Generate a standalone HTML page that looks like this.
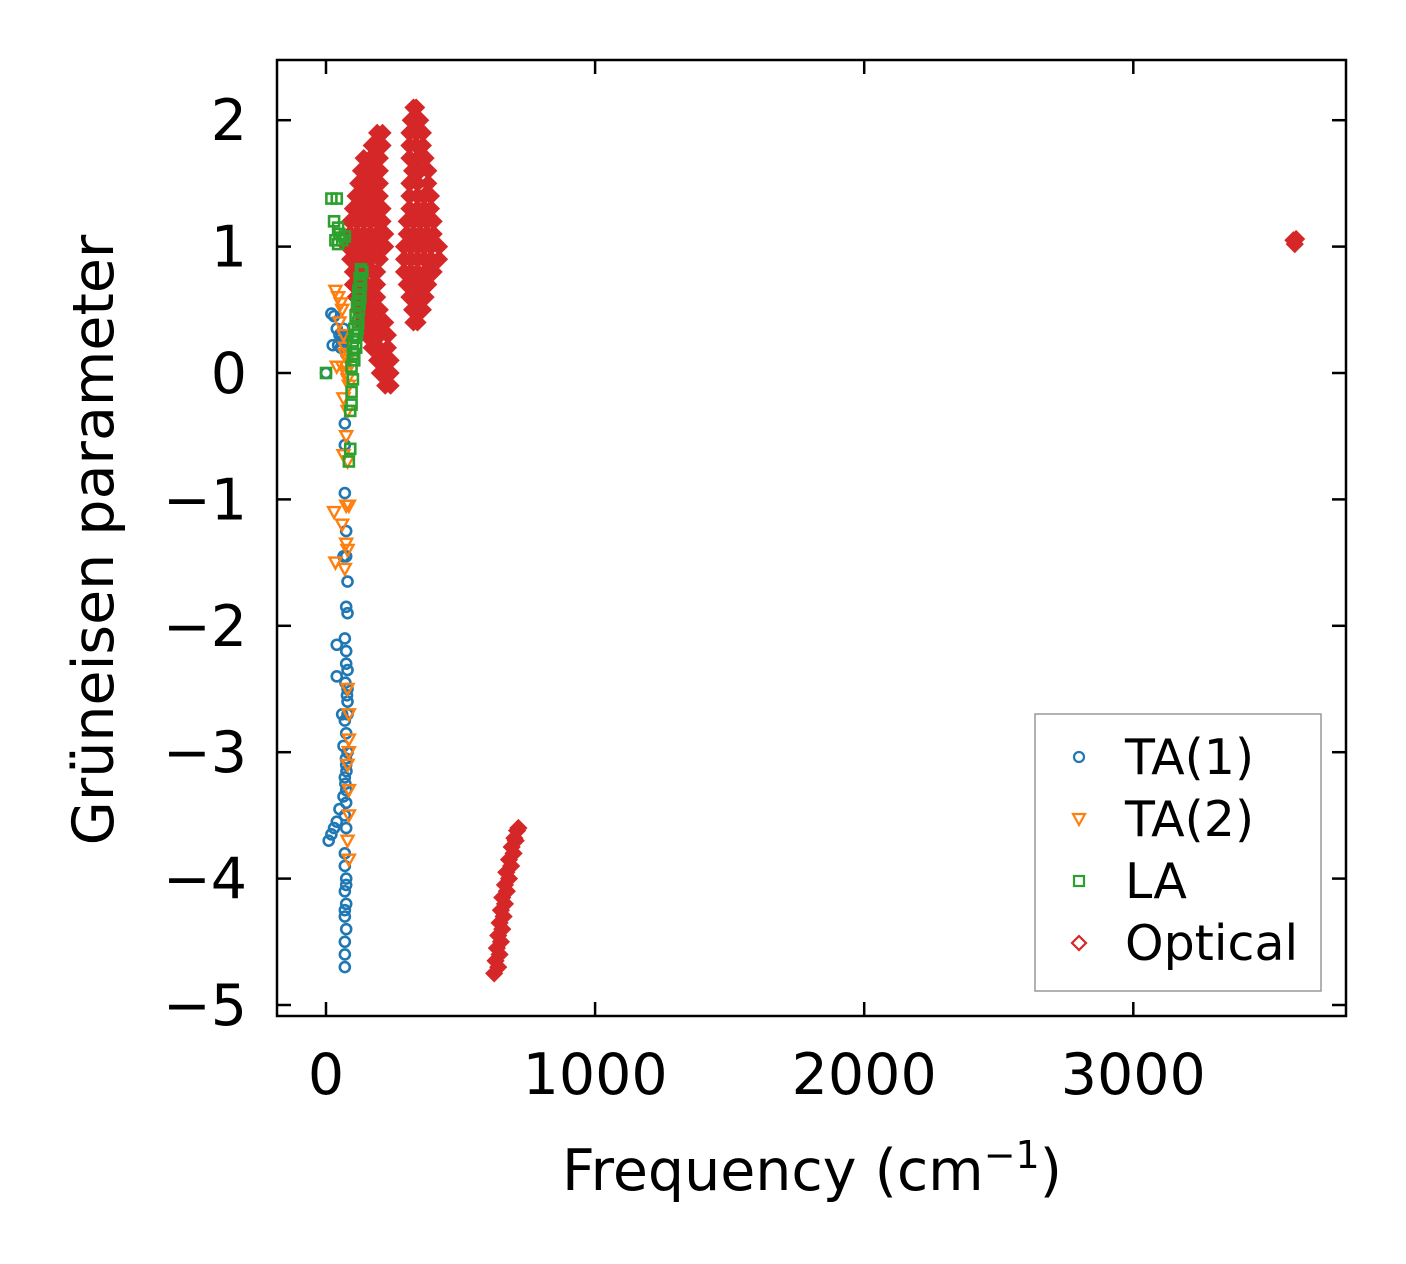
<!DOCTYPE html>
<html><head><meta charset="utf-8"><style>body{margin:0;background:#fff}svg{display:block}text{font-family:"DejaVu Sans","Liberation Sans",sans-serif;fill:#000}</style></head>
<body>
<svg id="chart" width="1406" height="1264" viewBox="0 0 1406 1264" xmlns="http://www.w3.org/2000/svg">
<rect width="1406" height="1264" fill="#fff"/>
<g id="marks"></g>
<g id="axes"></g>
</svg>
<script>
const xTicks=[0,1000,2000,3000];
const yTicks=[-5,-4,-3,-2,-1,0,1,2];
const yTickLabels=["\u22125","\u22124","\u22123","\u22122","\u22121","0","1","2"];
const ta1F=[0,20,30,40,50,55,60,45,25,70,70,70,75,65,75,80,75,80,40,70,75,75,80,80,40,60,70,75,65,80,75,70,65,50,40,30,10,20,70,75,70,75,70,75,70,75,70,70,70,80,80,75,75,70,75,70,60,65,70,75,80,72,78,74,76,72];
const ta1G=[0,0.47,0.45,0.35,0.3,0.2,0.25,0.22,0.22,-0.4,-0.57,-0.95,-1.25,-1.45,-1.45,-1.65,-1.85,-1.9,-2.15,-2.1,-2.2,-2.3,-2.35,-2.5,-2.4,-2.7,-2.75,-2.85,-2.95,-3.0,-3.1,-3.2,-3.35,-3.45,-3.55,-3.6,-3.7,-3.65,-3.5,-3.6,-3.9,-4.0,-4.1,-4.2,-4.3,-4.4,-4.5,-4.6,-4.7,-2.6,-2.7,-3.3,-3.4,-3.8,-4.05,-4.25,0.3,0.35,0.25,0.15,0.28,-2.45,-2.55,-3.05,-3.15,-3.25];
const ta2F=[35,45,55,60,50,65,70,80,40,60,75,85,65,80,75,65,80,85,75,30,60,75,80,35,70,85,85,80,85,85,80,85,80,85,70,75,80];
const ta2G=[0.65,0.6,0.55,0.5,0.4,0.3,0.2,0.1,0.05,0.05,0,-0.1,-0.2,-0.3,-0.5,-0.65,-0.7,-1.05,-1.05,-1.1,-1.2,-1.35,-1.4,-1.5,-1.55,-2.7,-2.9,-3.1,-3.3,-3.5,-3.7,-3.85,-2.5,-3.0,0.15,0.05,-0.05];
const laF=[20,40,30,45,50,60,35,45,70,130,125,120,115,110,105,100,100,95,100,95,95,90,90,85,130,125,120,115,105,135,0,128,122,118,112,108,104];
const laG=[1.38,1.38,1.2,1.15,1.1,1.05,1.05,1.02,1.08,0.82,0.75,0.65,0.55,0.45,0.35,0.25,0.15,0.05,-0.05,-0.15,-0.25,-0.3,-0.6,-0.7,0.7,0.55,0.4,0.3,0.1,0.8,0,0.6,0.5,0.35,0.2,0.3,0.15];
const optF=[190,210, 170,190,210, 140,165,190,200, 130,155,180,200, 120,145,170,200, 110,135,160,185,200, 100,125,150,175,200,210, 90,115,140,165,190,210, 90,115,140,165,190,220, 80,105,130,155,180,205,220, 90,115,140,165,200, 100,125,150,175,190, 100,125,150,175,190, 110,135,160,190, 120,145,170,200, 130,155,180,205,220, 150,175,200,230, 170,195,230, 190,215,240, 200,220,240, 220,240,
325,335, 315,335,350, 310,335,360, 310,335,360, 310,340,370, 320,350,380, 310,340,380, 310,340,365,390, 310,340,365,390, 300,325,350,375,400, 300,325,350,375,400, 290,315,340,365,390,420, 290,315,340,365,390,420, 290,315,340,370,400, 300,330,355,380, 310,340,370, 320,345,360, 325,340,
625,630,635,640,645,650,655,665,670,680,690,700,710,715, 640,645,650,655,660,665,672,680,688,697,705,
3595,3600,3605];
const optG=[1.9,1.9, 1.8,1.8,1.8, 1.7,1.7,1.7,1.7, 1.6,1.6,1.6,1.6, 1.5,1.5,1.5,1.5, 1.4,1.4,1.4,1.4,1.4, 1.3,1.3,1.3,1.3,1.3,1.3, 1.2,1.2,1.2,1.2,1.2,1.2, 1.1,1.1,1.1,1.1,1.1,1.1, 1.0,1.0,1.0,1.0,1.0,1.0,1.0, 0.9,0.9,0.9,0.9,0.9, 0.8,0.8,0.8,0.8,0.8, 0.7,0.7,0.7,0.7,0.7, 0.6,0.6,0.6,0.6, 0.5,0.5,0.5,0.5, 0.4,0.4,0.4,0.4,0.4, 0.3,0.3,0.3,0.3, 0.2,0.2,0.2, 0.1,0.1,0.1, 0,0,0, -0.1,-0.1,
2.1,2.1, 2.0,2.0,2.0, 1.9,1.9,1.9, 1.8,1.8,1.8, 1.7,1.7,1.7, 1.6,1.6,1.6, 1.5,1.5,1.5, 1.4,1.4,1.4,1.4, 1.3,1.3,1.3,1.3, 1.2,1.2,1.2,1.2,1.2, 1.1,1.1,1.1,1.1,1.1, 1.0,1.0,1.0,1.0,1.0,1.0, 0.9,0.9,0.9,0.9,0.9,0.9, 0.8,0.8,0.8,0.8,0.8, 0.7,0.7,0.7,0.7, 0.6,0.6,0.6, 0.5,0.5,0.5, 0.4,0.4,
-4.75,-4.65,-4.55,-4.45,-4.35,-4.25,-4.15,-4.05,-3.95,-3.85,-3.75,-3.68,-3.62,-3.6, -4.7,-4.6,-4.5,-4.4,-4.3,-4.2,-4.1,-4.0,-3.9,-3.8,-3.7,
1.05,1.02,1.06];

const L=277,R=1346,T=60,B=1016;
function sx(v){return 326+v*0.2691;}
function sy(v){return 373-v*126.4;}
const NS="http://www.w3.org/2000/svg";
function mk(tag,attrs,parent){const e=document.createElementNS(NS,tag);for(const k in attrs)e.setAttribute(k,attrs[k]);parent.appendChild(e);return e;}
const marks=document.getElementById('marks');
const axes=document.getElementById('axes');
function marker(type,x,y,color,parent,fill,sw){
  let e;
  const f=fill||'none', w=sw||2.2;
  if(type==='o') e=mk('circle',{cx:x,cy:y,r:5,fill:f,stroke:color,'stroke-width':w},parent);
  else if(type==='v') e=mk('polygon',{points:`${x-6},${y-5} ${x+6},${y-5} ${x},${y+6}`,fill:f,stroke:color,'stroke-width':w},parent);
  else if(type==='s') e=mk('rect',{x:x-5,y:y-5,width:10,height:10,fill:f,stroke:color,'stroke-width':w},parent);
  else e=mk('polygon',{points:`${x},${y-7} ${x+7},${y} ${x},${y+7} ${x-7},${y}`,fill:f,stroke:color,'stroke-width':w},parent);
  return e;
}
function series(F,G,type,color,name,fill,sw){
  const g=mk('g',{},marks);
  
  
  for(let i=0;i<F.length;i++){
    const e=marker(type,sx(F[i]),sy(G[i]),color,g,fill,sw);
    
    
  }
}
series(optF,optG,'d','#d62728','optical-series','#d62728',3);
series(ta1F,ta1G,'o','#1f77b4','ta1-series',null,2.6);
series(ta2F,ta2G,'v','#ff7f0e','ta2-series',null,2.4);
series(laF,laG,'s','#2ca02c','la-series',null,2.6);

const frame=mk('rect',{x:L,y:T,width:R-L,height:B-T,fill:'none',stroke:'#000','stroke-width':2.5},axes);


xTicks.forEach(v=>{
  const x=sx(v);
  mk('line',{x1:x,y1:B,x2:x,y2:B-14,stroke:'#000','stroke-width':2.5},axes);
  mk('line',{x1:x,y1:T,x2:x,y2:T+14,stroke:'#000','stroke-width':2.5},axes);
  const t=mk('text',{x:x,y:1094,'text-anchor':'middle','font-size':57},axes);
  t.textContent=String(v);
  
  
});
yTicks.forEach((v,i)=>{
  const y=sy(v);
  mk('line',{x1:L,y1:y,x2:L+14,y2:y,stroke:'#000','stroke-width':2.5},axes);
  mk('line',{x1:R,y1:y,x2:R-14,y2:y,stroke:'#000','stroke-width':2.5},axes);
  const t=mk('text',{x:247,y:y+20,'text-anchor':'end','font-size':57},axes);
  t.textContent=yTickLabels[i];
  
  
});
const xt=mk('text',{x:812,y:1190,'text-anchor':'middle','font-size':57},axes);
xt.innerHTML='Frequency (cm<tspan baseline-shift="super" font-size="38">\u22121</tspan>)';


const yt=mk('text',{x:0,y:0,'text-anchor':'middle','font-size':57,transform:'translate(113,540) rotate(-90)'},axes);
yt.textContent='Grüneisen parameter';



const lg=mk('g',{},axes);


mk('rect',{x:1035,y:714,width:286,height:277,fill:'#fff',stroke:'#999','stroke-width':1.5},lg);
const legNames=['TA(1)','TA(2)','LA','Optical'];
const legTypes=['o','v','s','d'];
const legColors=['#1f77b4','#ff7f0e','#2ca02c','#d62728'];
legNames.forEach((n,i)=>{
  const y=757+i*62;
  marker(legTypes[i],1079,y,legColors[i],lg);
  const t=mk('text',{x:1125,y:y+17,'font-size':49},lg);
  t.textContent=n;
  
  
});
</script>
</body></html>
